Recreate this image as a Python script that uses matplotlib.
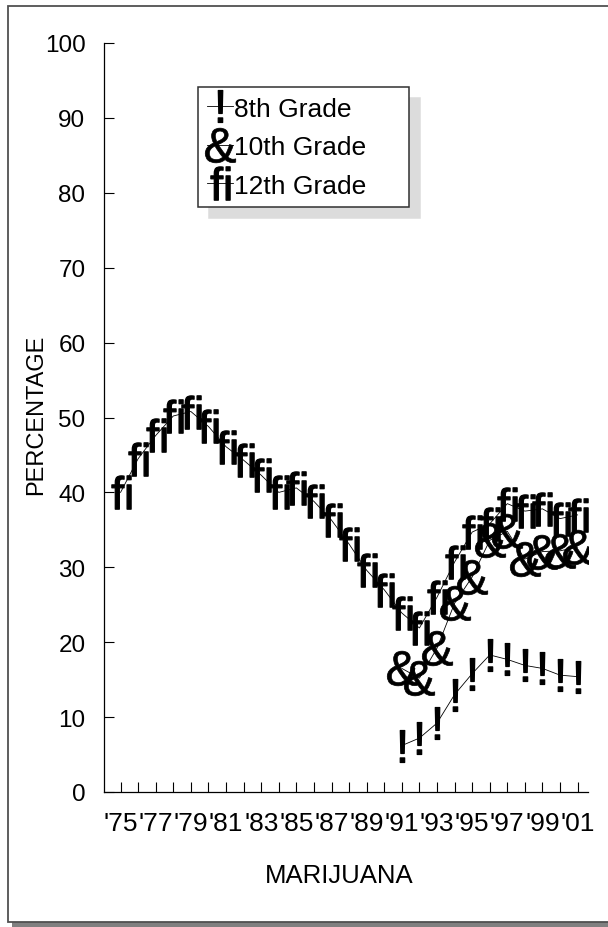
import matplotlib
matplotlib.use("Agg")
import matplotlib.pyplot as plt
from matplotlib.patches import Rectangle
from matplotlib.path import Path
from matplotlib.textpath import TextPath
from matplotlib.font_manager import FontProperties

plt.rcParams['font.family'] = ['Liberation Sans', 'DejaVu Sans']

# Marijuana annual prevalence (%)
years_12 = list(range(1975, 2002))
grade12 = [40.0, 44.5, 47.6, 50.2, 50.8, 48.8, 46.1, 44.3, 42.3, 40.0,
           40.6, 38.8, 36.3, 33.1, 29.6, 27.0, 23.9, 21.9, 26.0, 30.7,
           34.7, 35.8, 38.5, 37.5, 37.8, 36.5, 37.0]
years_lo = list(range(1991, 2002))
grade10 = [16.5, 15.2, 19.2, 25.2, 28.7, 33.6, 34.8, 31.1, 32.1, 32.2, 32.7]
grade8 = [6.2, 7.2, 9.2, 13.0, 15.8, 18.3, 17.7, 16.9, 16.5, 15.6, 15.4]

tick_years = list(range(1975, 2002))
tick_labels = ["'75", "", "'77", "", "'79", "", "'81", "", "'83", "", "'85", "",
               "'87", "", "'89", "", "'91", "", "'93", "", "'95", "", "'97", "",
               "'99", "", "'01"]
y_ticks = [0, 10, 20, 30, 40, 50, 60, 70, 80, 90, 100]


def glyph_marker(s):
    # text glyph as a path, centred on its own bounding box
    tp = TextPath((0, 0), s, size=10, prop=FontProperties(family='Liberation Sans'))
    v = tp.vertices.copy()
    ext = tp.get_extents()
    v[:, 0] -= (ext.x0 + ext.x1) / 2
    v[:, 1] -= (ext.y0 + ext.y1) / 2
    return Path(v, tp.codes)


W, H = 608, 928
fig = plt.figure(figsize=(6.08, 9.28), dpi=100)

# outer frame with drop shadow
fig.add_artist(Rectangle((12 / W, 0), 1.2, (H - 12) / H, transform=fig.transFigure,
                         facecolor='#808080', edgecolor='none', zorder=-20))
fig.add_artist(Rectangle((7.5 / W, 5 / H), 1.2, (H - 12) / H, transform=fig.transFigure,
                         facecolor='white', edgecolor='#505050', linewidth=1.3, zorder=-19))

ax = fig.add_axes([103.5 / W, 135 / H, 484.5 / W, 749 / H])
ax.set_facecolor('none')

ax.plot(years_lo, grade8, color='black', lw=0.6, marker=glyph_marker('!'),
        ms=23, mfc='black', mec='black', mew=0.9, label='8th Grade')
ax.plot(years_lo, grade10, color='black', lw=0.6, marker=glyph_marker('&'),
        ms=25, mfc='black', mec='black', mew=0.5, label='10th Grade')
ax.plot(years_12, grade12, color='black', lw=0.6, marker=glyph_marker('fi'),
        ms=24, mfc='black', mec='black', mew=0.9, label='12th Grade')

ax.set_xlim(1974.03, 2001.59)
ax.set_ylim(0, 100)
ax.set_xticks(tick_years)
ax.set_xticklabels(tick_labels)
ax.set_yticks(y_ticks)
ax.tick_params(axis='both', direction='in', length=7.5, width=0.8, labelsize=17.5, pad=13)
ax.tick_params(axis='x', pad=14, labelsize=19)

for s in ['top', 'right']:
    ax.spines[s].set_visible(False)
for s in ['left', 'bottom']:
    ax.spines[s].set_linewidth(0.9)

ax.set_xlabel('MARIJUANA', fontsize=18.5)
ax.xaxis.label.set_va('center')
ax.xaxis.set_label_coords((339 - 103.5) / 484.5, (793 - 876) / 749)
ax.set_ylabel('PERCENTAGE', fontsize=17)
ax.yaxis.label.set_va('center')
ax.yaxis.set_label_coords((36 - 103.5) / 484.5, (793 - 415) / 749)

leg = ax.legend(loc='upper left', bbox_to_anchor=(0.195, 0.941, 0.4355, 0),
                mode='expand', borderaxespad=0, fontsize=19, numpoints=1,
                handlelength=0.95, handletextpad=0.05, borderpad=0.36,
                labelspacing=0.55, fancybox=False, framealpha=1,
                edgecolor='#303030',
                shadow={'ox': 8, 'oy': -8, 'color': '#dcdcdc', 'alpha': 1})
leg.get_frame().set_linewidth(1.1)

fig.savefig('out.png', dpi=100)
